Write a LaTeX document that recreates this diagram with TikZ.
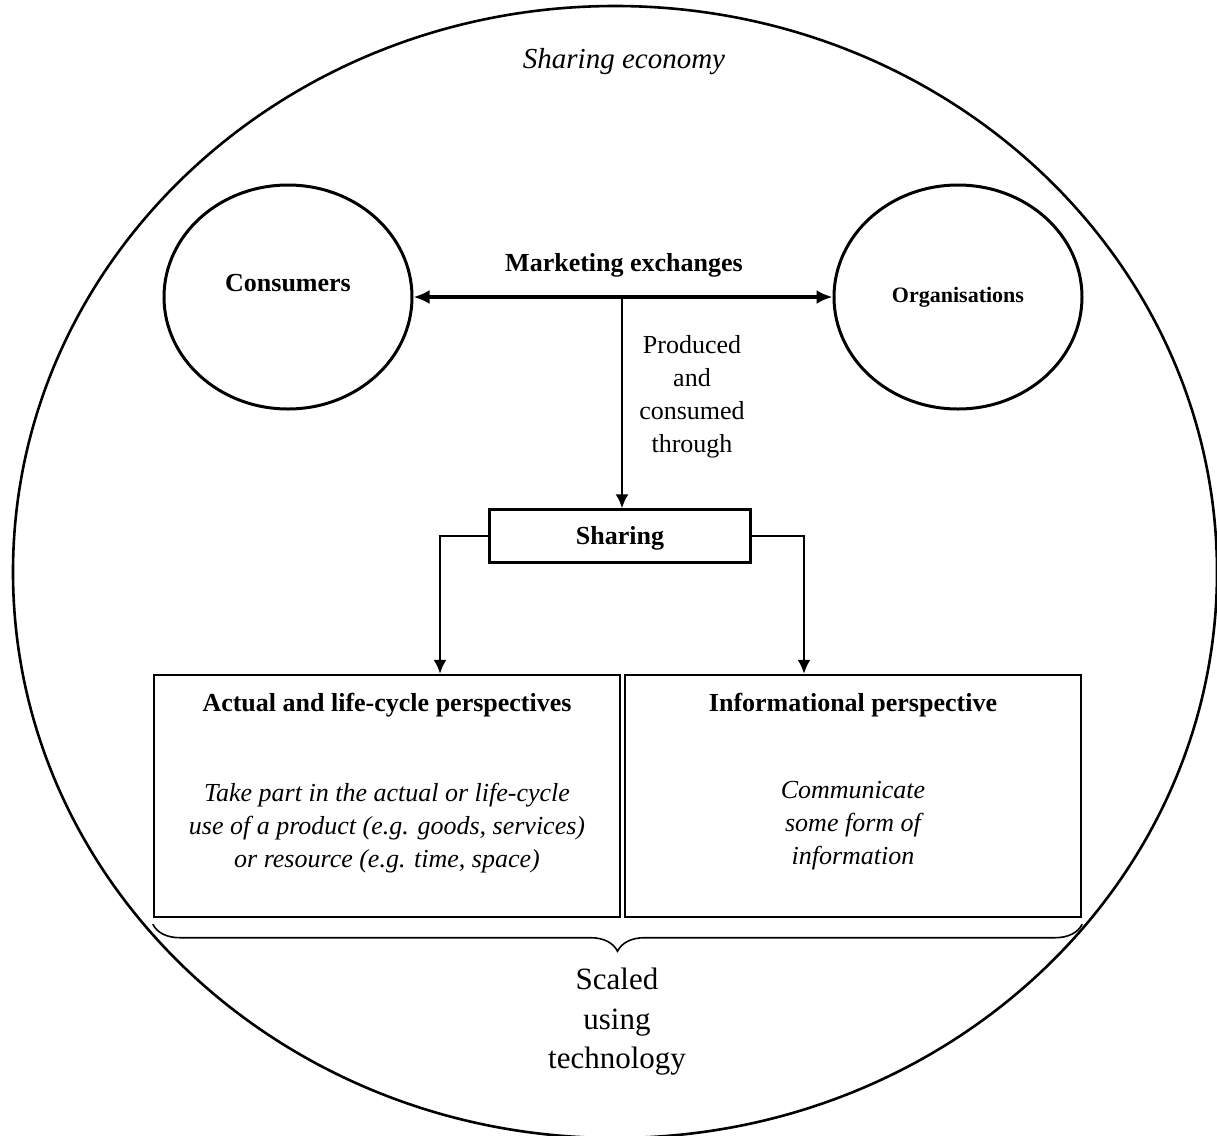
\documentclass[tikz,border=0pt]{standalone}
\usepackage{fontspec}
\setmainfont{Liberation Serif}
\usetikzlibrary{shapes.geometric,decorations.pathreplacing,calc,arrows.meta}
\begin{document}
\begin{tikzpicture}[x=0.5pt,y=-0.5pt,
	actor/.style={draw,ellipse,line width=1.5pt,minimum width=124pt,minimum height=112pt,inner sep=0pt},
	box/.style={draw,rectangle,line width=1.2pt,inner sep=0pt},
	flow/.style={line width=1.1pt,-{Latex[length=7pt,width=6.5pt]}},
	bold/.style={font=\fontsize{13}{16.5}\selectfont\bfseries},
	plain/.style={font=\fontsize{13}{16.5}\selectfont,align=center},
	ital/.style={font=\fontsize{13}{16.5}\selectfont\itshape,align=center}]
	\useasboundingbox (0,0) rectangle (1217,1136);
	\draw[line width=1.3pt] (615,572) ellipse [x radius=301pt, y radius=283pt]; % outer economy
	\node[font=\fontsize{14.5}{17}\selectfont\itshape] (econ) at (624,62) {Sharing economy};
	\node[actor,label={[bold,yshift=7pt]center:Consumers}] (cons) at (288,297) {};
	\node[actor,font=\fontsize{11}{13}\selectfont\bfseries] (org) at (958,297) {Organisations};
	\node[bold] (mkt) at (624,265) {Marketing exchanges};
	\draw[line width=2pt,{Latex[length=8pt,width=7pt]}-{Latex[length=8pt,width=7pt]}] (cons.east) -- (cons.east -| org.west);
	\coordinate (mid) at (622,297);
	\node[box,minimum width=130.5pt,minimum height=26.5pt] (share) at (620,536) {};
	\node[bold] (sharet) at (620,538) {Sharing};
	\draw[flow] (mid) -- (mid |- share.north);
	\node[plain] (prod) at (692,397) {Produced\\and\\consumed\\through};
	\node[box,minimum width=233pt,minimum height=121pt] (act) at (387,796) {};
	\node[box,minimum width=228pt,minimum height=121pt] (info) at (853,796) {};
	\draw[flow] (share.west) -| ([xshift=26.5pt]act.north);
	\draw[flow] (share.east) -| ([xshift=-24.5pt]info.north);
	\node[bold] (actt) at (387,705) {Actual and life-cycle perspectives};
	\node[bold] (infot) at (853,705) {Informational perspective};
	\node[ital] (actb) at (387,828) {Take part in the actual or life-cycle\\use of a product (e.g. goods, services)\\or resource (e.g. time, space)};
	\node[ital] (infob) at (853,826) {Communicate\\some form of\\information};
	\draw[line width=0.8pt,decorate,decoration={brace,mirror,amplitude=13.5pt}] (act.south west) ++(0,6) coordinate (bl) (info.south east) ++(0,6) coordinate (br) (bl) -- (br);
	\node[font=\fontsize{15.5}{19.75}\selectfont,align=center] (scale) at (617,1022) {Scaled\\using\\technology};
\end{tikzpicture}
\end{document}
